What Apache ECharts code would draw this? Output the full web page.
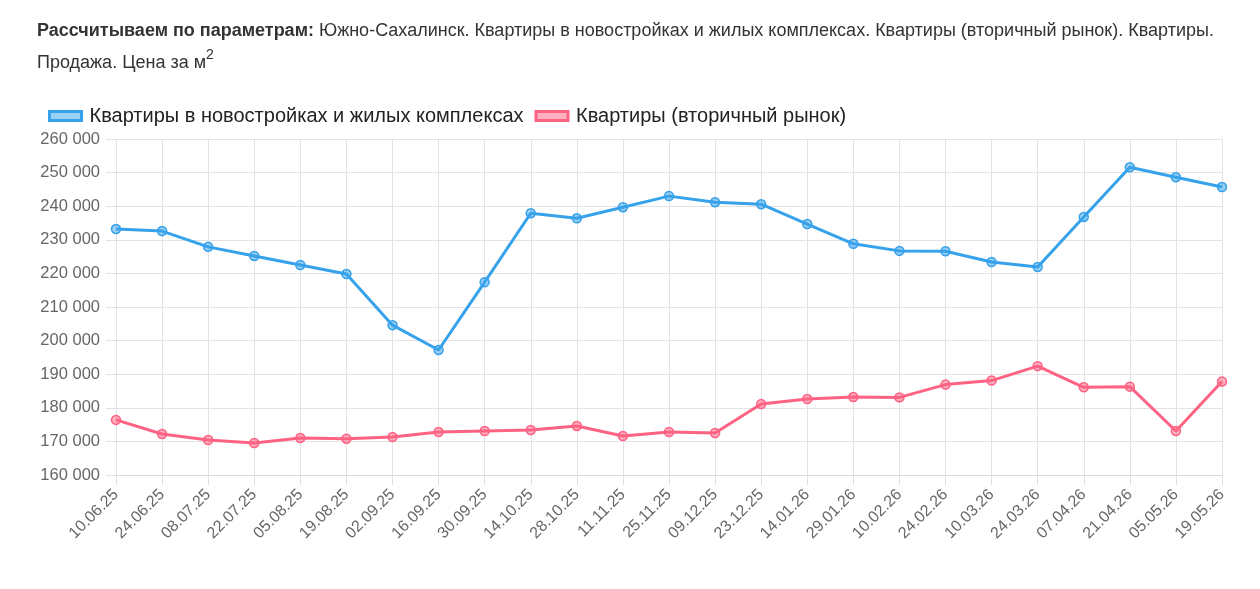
<!DOCTYPE html>
<html style="height: 100%">
<head>
    <title>Цена за м2</title>
    <meta charset="utf-8">
    <style>
        body { margin: 0; background: #fff; font-family: "Liberation Sans", Arial, sans-serif; }
        #head { position: absolute; left: 37px; top: 14px; width: 1200px; font-size: 18px; line-height: 32px; color: #333; }
        #head sup { font-size: 14px; line-height: 0; position: relative; top: -2px; }
        #container { position: absolute; left: 0; top: 0; width: 1260px; height: 589px; }
    </style>
</head>
<body>
<div id="container"></div>
<div id="head"><b>Рассчитываем по параметрам:</b> Южно-Сахалинск. Квартиры в новостройках и жилых комплексах. Квартиры (вторичный рынок). Квартиры. Продажа. Цена за м<sup>2</sup></div>
<script src="https://cdn.jsdelivr.net/npm/echarts@6/dist/echarts.min.js"></script>
<script type="text/javascript">
    // даты замеров
    var dates = ['10.06.25', '24.06.25', '08.07.25', '22.07.25', '05.08.25', '19.08.25', '02.09.25', '16.09.25',
        '30.09.25', '14.10.25', '28.10.25', '11.11.25', '25.11.25', '09.12.25', '23.12.25', '14.01.26', '29.01.26',
        '10.02.26', '24.02.26', '10.03.26', '24.03.26', '07.04.26', '21.04.26', '05.05.26', '19.05.26'];
    // новостройки
    var newBuild = [233200, 232600, 227900, 225200, 222500, 219800, 204600, 197200, 217400, 237900, 236400, 239700,
        243000, 241200, 240600, 234700, 228800, 226700, 226600, 223400, 221900, 236800, 251600, 248600, 245700];
    // вторичка
    var secondary = [176400, 172200, 170400, 169500, 171000, 170800, 171300, 172800, 173100, 173400, 174600, 171600,
        172800, 172500, 181100, 182600, 183200, 183100, 186900, 188100, 192400, 186100, 186300, 173100, 187800];
    var names = ['Квартиры в новостройках и жилых комплексах', 'Квартиры (вторичный рынок)'];

    var dom = document.getElementById("container");
    var myChart = echarts.init(dom);
    var font = '"Liberation Sans", Arial, sans-serif';

    function mkSeries(name, data, color, fill) {
        return {
            name: name,
            type: 'line',
            data: data,
            symbol: 'circle',
            symbolSize: 9,
            lineStyle: {color: color, width: 3},
            itemStyle: {color: fill, borderColor: color, borderWidth: 1.5},
            emphasis: {disabled: true},
            animation: false
        };
    }

    myChart.setOption({
        animation: false,
        textStyle: {fontFamily: font},
        legend: {
            left: 43,
            top: 101,
            itemGap: 11,
            itemWidth: 32,
            itemHeight: 9,
            icon: 'rect',
            textStyle: {fontSize: 20, color: '#222', fontFamily: font, padding: [0, 0, 0, 3]},
            data: [
                {name: names[0], itemStyle: {color: 'rgba(54,162,235,0.5)', borderColor: '#36A2EB', borderWidth: 3}},
                {name: names[1], itemStyle: {color: 'rgba(255,99,132,0.5)', borderColor: '#FF6384', borderWidth: 3}}
            ]
        },
        grid: {left: 116, right: 38, top: 139, bottom: 114},
        xAxis: {
            type: 'category',
            data: dates,
            boundaryGap: false,
            axisLine: {lineStyle: {color: '#dcdcdc'}},
            axisTick: {show: true, length: 10, lineStyle: {color: '#e0e0e0'}},
            splitLine: {show: true, lineStyle: {color: '#e3e3e3'}},
            axisLabel: {rotate: 45, fontSize: 16, color: '#666', margin: 17, interval: 0, fontFamily: font}
        },
        yAxis: {
            type: 'value',
            min: 160000,
            max: 260000,
            interval: 10000,
            axisLine: {show: false},
            axisTick: {show: true, length: 10, lineStyle: {color: '#e0e0e0'}},
            splitLine: {show: true, lineStyle: {color: '#e3e3e3'}},
            axisLabel: {
                fontSize: 16.5, color: '#666', margin: 16, fontFamily: font,
                formatter: function (v) { return String(v).replace(/\B(?=(\d{3})+(?!\d))/g, ' '); }
            }
        },
        series: [
            mkSeries(names[0], newBuild, '#36A2EB', 'rgba(54,162,235,0.5)'),
            mkSeries(names[1], secondary, '#FF6384', 'rgba(255,99,132,0.5)')
        ]
    });
</script>
</body>
</html>
